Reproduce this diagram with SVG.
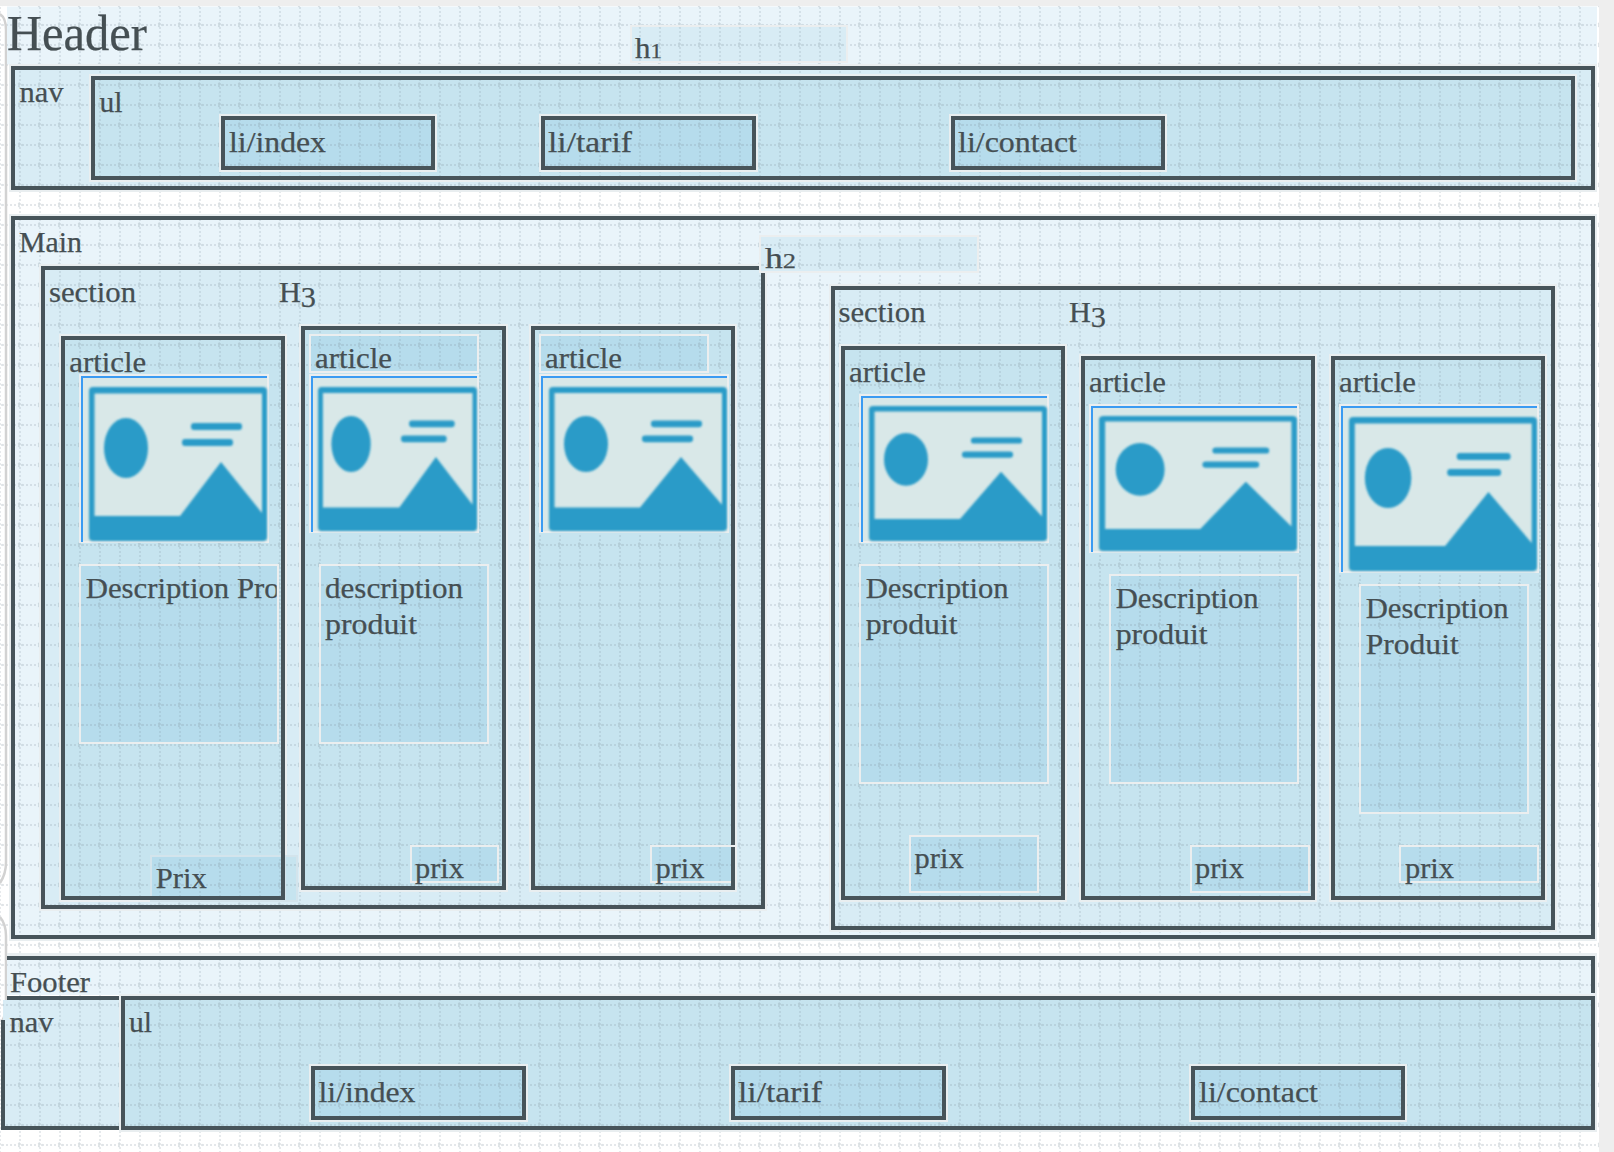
<svg xmlns="http://www.w3.org/2000/svg" width="1614" height="1152" viewBox="0 0 1614 1152">
<style>
.l0{fill:url(#g0)}.l1{fill:url(#g1)}.l2{fill:url(#g2)}.l3{fill:url(#g3)}.l4{fill:url(#g4)}
.halo{fill:none;stroke:#e9eef0;stroke-width:8}
.box{stroke:#47545a;stroke-width:4}
.edge{fill:none;stroke:#47545a;stroke-width:4}
.soft{stroke:#ebeeef;stroke-width:2}
.faint{stroke:#d3e4ec;stroke-width:2}
.pic{fill:#d9e8e8;stroke:#ebeeef;stroke-width:2}
.blue{fill:none;stroke:#3a9bf2;stroke-width:2}
.rim{fill:none;stroke:#d2d2d2;stroke-width:2.500}
text{font-family:"Liberation Serif",serif;font-size:29.500px;fill:#454f53;stroke:#454f53;stroke-width:.25px}
.big{font-size:50px}
.old{font-size:22px}
</style>
<defs>
<path id="tile" d="M10 0V20M0 10H20M10 8a2 2 0 1 0 .01 0" fill="none" stroke="#7d9098" stroke-opacity=".28" stroke-width="1.400" stroke-dasharray="2 2"/>
<pattern id="g0" patternUnits="userSpaceOnUse" x="10" y="-5" width="20" height="20"><rect width="20" height="20" fill="#fff"/><use href="#tile"/></pattern>
<pattern id="g1" patternUnits="userSpaceOnUse" x="10" y="-5" width="20" height="20"><rect width="20" height="20" fill="#e9f4fa"/><use href="#tile"/></pattern>
<pattern id="g2" patternUnits="userSpaceOnUse" x="10" y="-5" width="20" height="20"><rect width="20" height="20" fill="#d8ecf5"/><use href="#tile"/></pattern>
<pattern id="g3" patternUnits="userSpaceOnUse" x="10" y="-5" width="20" height="20"><rect width="20" height="20" fill="#c6e4ef"/><use href="#tile"/></pattern>
<pattern id="g4" patternUnits="userSpaceOnUse" x="10" y="-5" width="20" height="20"><rect width="20" height="20" fill="#b6dcec"/><use href="#tile"/></pattern>
<filter id="blur" x="-5%" y="-5%" width="110%" height="110%"><feGaussianBlur stdDeviation="0.9"/></filter>
<symbol id="icon" viewBox="0 0 178 155" preserveAspectRatio="none">
<g fill="#2a9bc8">
<path fill-rule="evenodd" d="M4 1H174a4 4 0 0 1 4 4V151a4 4 0 0 1-4 4H4a4 4 0 0 1-4-4V5a4 4 0 0 1 4-4ZM5.500 7.500V130H91L132 76L173 127V7.500Z"/>
<ellipse cx="37" cy="62" rx="22" ry="30"/>
<rect x="102" y="37" width="51" height="7" rx="3"/>
<rect x="93" y="53" width="51" height="7" rx="3"/>
</g>
</symbol>
<clipPath id="clipD1"><rect x="80" y="560" width="196.700" height="60"/></clipPath>
</defs>

<rect id="page" width="1614" height="1152" fill="#eeeeee"/>
<rect id="sheet" x="0" y="6" width="1599" height="1146" class="l0"/>
<path class="rim" d="M0 14Q6 18 6 30V862Q6 874 0 883M0 917Q6 924 6 936V1008Q6 1016 1 1022"/>

<g id="header">
<rect x="7" y="6.500" width="1590" height="58" class="l1"/>
<text class="big" x="7" y="50" textLength="140" lengthAdjust="spacingAndGlyphs">Header</text>
</g>
<g id="h1">
<rect x="631" y="26" width="216" height="36" class="l2 soft"/>
<text x="635" y="58" textLength="27" lengthAdjust="spacingAndGlyphs">h<tspan class="old">1</tspan></text>
</g>

<g id="nav">
<rect x="13" y="68" width="1580" height="120" class="halo"/>
<rect x="13" y="68" width="1580" height="120" class="l2 box"/>
<text x="19.500" y="101.700" textLength="44" lengthAdjust="spacingAndGlyphs">nav</text>
</g>
<g id="nav-ul">
<rect x="93" y="78" width="1480" height="100" class="halo"/>
<rect x="93" y="78" width="1480" height="100" class="l3 box"/>
<text x="99.500" y="111.700" textLength="23" lengthAdjust="spacingAndGlyphs">ul</text>
</g>
<g id="nav-li-index">
<rect x="223" y="118" width="210" height="50" class="halo"/>
<rect x="223" y="118" width="210" height="50" class="l4 box"/>
<text x="229" y="152" textLength="97" lengthAdjust="spacingAndGlyphs">li/index</text>
</g>
<g id="nav-li-tarif">
<rect x="543" y="118" width="211" height="50" class="halo"/>
<rect x="543" y="118" width="211" height="50" class="l4 box"/>
<text x="548" y="152" textLength="84" lengthAdjust="spacingAndGlyphs">li/tarif</text>
</g>
<g id="nav-li-contact">
<rect x="953" y="118" width="210" height="50" class="halo"/>
<rect x="953" y="118" width="210" height="50" class="l4 box"/>
<text x="958" y="152" textLength="119" lengthAdjust="spacingAndGlyphs">li/contact</text>
</g>

<g id="main">
<rect x="13" y="218" width="1580" height="719" class="halo"/>
<rect x="13" y="218" width="1580" height="719" class="l1 box"/>
<text x="19" y="251.700" textLength="63" lengthAdjust="spacingAndGlyphs">Main</text>
</g>

<g id="section-1">
<rect x="43" y="268" width="720" height="639" class="halo"/>
<rect x="43" y="268" width="720" height="639" class="l2 box"/>
<text x="49" y="301.700" textLength="87" lengthAdjust="spacingAndGlyphs">section</text>
<text x="279" y="302" textLength="37" lengthAdjust="spacingAndGlyphs">H<tspan dy="5">3</tspan></text>
</g>
<g id="h2">
<rect x="760" y="236" width="218" height="36" class="l2 soft"/>
<text x="765" y="268" textLength="31" lengthAdjust="spacingAndGlyphs">h<tspan class="old">2</tspan></text>
</g>

<g id="article-1">
<rect x="63" y="338" width="220" height="560" class="halo"/>
<rect x="63" y="338" width="220" height="560" class="l3 box"/>
<rect x="151" y="856" width="134" height="45" class="l4 faint"/>
<rect x="285" y="856" width="12" height="45" class="l3 faint"/>
<rect x="63" y="338" width="220" height="560" class="edge"/>
<text x="69.300" y="371.700" textLength="77" lengthAdjust="spacingAndGlyphs">article</text>
<text x="155.700" y="888" textLength="51" lengthAdjust="spacingAndGlyphs">Prix</text>
<rect x="80" y="375" width="188" height="167" class="pic"/><path class="blue" d="M82 542V377H267"/>
<use href="#icon" x="89" y="386" width="178" height="155" filter="url(#blur)"/>
<rect x="80" y="565" width="198" height="178" class="l4 soft"/>
<text x="85.700" y="598" textLength="194" lengthAdjust="spacingAndGlyphs" clip-path="url(#clipD1)">Description Pro</text>
</g>

<g id="article-2">
<rect x="303" y="328" width="201" height="560" class="halo"/>
<rect x="303" y="328" width="201" height="560" class="l3 box"/>
<rect x="310" y="335" width="168" height="37" class="l4 soft"/>
<text x="315" y="368" textLength="77" lengthAdjust="spacingAndGlyphs">article</text>
<rect x="310" y="375" width="168" height="157" class="pic"/><path class="blue" d="M312 532V377H477"/>
<use href="#icon" x="318" y="386" width="159" height="145" filter="url(#blur)"/>
<rect x="320" y="565" width="168" height="178" class="l4 soft"/>
<text x="325" y="598" textLength="138" lengthAdjust="spacingAndGlyphs">description</text>
<text x="325" y="634" textLength="92" lengthAdjust="spacingAndGlyphs">produit</text>
<rect x="411" y="846" width="87" height="36" class="l4 soft"/>
<text x="415" y="878.300" textLength="49" lengthAdjust="spacingAndGlyphs">prix</text>
</g>

<g id="article-3">
<rect x="533" y="328" width="200" height="560" class="halo"/>
<rect x="533" y="328" width="200" height="560" class="l3 box"/>
<rect x="540" y="335" width="168" height="37" class="l4 soft"/>
<text x="545" y="368" textLength="77" lengthAdjust="spacingAndGlyphs">article</text>
<rect x="540" y="375" width="188" height="157" class="pic"/><path class="blue" d="M542 532V377H727"/>
<use href="#icon" x="549" y="386" width="178" height="145" filter="url(#blur)"/>
<rect x="651" y="846" width="85" height="36" class="l4 soft"/>
<rect x="533" y="328" width="200" height="560" class="edge"/>
<path class="soft" fill="none" d="M730 846H737"/>
<text x="655.500" y="878.300" textLength="49" lengthAdjust="spacingAndGlyphs">prix</text>
</g>

<g id="section-2">
<rect x="833" y="288" width="720" height="640" class="halo"/>
<rect x="833" y="288" width="720" height="640" class="l2 box"/>
<text x="838.500" y="321.700" textLength="87" lengthAdjust="spacingAndGlyphs">section</text>
<text x="1069" y="321.700" textLength="37" lengthAdjust="spacingAndGlyphs">H<tspan dy="5">3</tspan></text>
</g>

<g id="article-4">
<rect x="843" y="348" width="220" height="550" class="halo"/>
<rect x="843" y="348" width="220" height="550" class="l3 box"/>
<text x="849" y="381.700" textLength="77" lengthAdjust="spacingAndGlyphs">article</text>
<rect x="860" y="395" width="188" height="147" class="pic"/><path class="blue" d="M862 542V397H1047"/>
<use href="#icon" x="869" y="405" width="178" height="136" filter="url(#blur)"/>
<rect x="860" y="565" width="188" height="218" class="l4 soft"/>
<text x="865.700" y="598" textLength="143" lengthAdjust="spacingAndGlyphs">Description</text>
<text x="865.700" y="634" textLength="92" lengthAdjust="spacingAndGlyphs">produit</text>
<rect x="910" y="836" width="128" height="56" class="l4 soft"/>
<text x="914.600" y="868.300" textLength="49" lengthAdjust="spacingAndGlyphs">prix</text>
</g>

<g id="article-5">
<rect x="1083" y="358" width="230" height="540" class="halo"/>
<rect x="1083" y="358" width="230" height="540" class="l3 box"/>
<text x="1089" y="391.700" textLength="77" lengthAdjust="spacingAndGlyphs">article</text>
<rect x="1090" y="405" width="208" height="147" class="pic"/><path class="blue" d="M1092 552V407H1297"/>
<use href="#icon" x="1099" y="415" width="198" height="136" filter="url(#blur)"/>
<rect x="1110" y="575" width="188" height="208" class="l4 soft"/>
<text x="1115.700" y="608" textLength="143" lengthAdjust="spacingAndGlyphs">Description</text>
<text x="1115.700" y="644" textLength="92" lengthAdjust="spacingAndGlyphs">produit</text>
<rect x="1191" y="846" width="118" height="46" class="l4 soft"/>
<text x="1195" y="878.300" textLength="49" lengthAdjust="spacingAndGlyphs">prix</text>
</g>

<g id="article-6">
<rect x="1333" y="358" width="210" height="540" class="halo"/>
<rect x="1333" y="358" width="210" height="540" class="l3 box"/>
<text x="1339" y="391.700" textLength="77" lengthAdjust="spacingAndGlyphs">article</text>
<rect x="1340" y="405" width="198" height="167" class="pic"/><path class="blue" d="M1342 572V407H1537"/>
<use href="#icon" x="1349" y="416" width="188" height="155" filter="url(#blur)"/>
<rect x="1360" y="585" width="168" height="228" class="l4 soft"/>
<text x="1365.700" y="618" textLength="143" lengthAdjust="spacingAndGlyphs">Description</text>
<text x="1365.700" y="654" textLength="93" lengthAdjust="spacingAndGlyphs">Produit</text>
<rect x="1400" y="846" width="138" height="36" class="l4 soft"/>
<text x="1405" y="878.300" textLength="49" lengthAdjust="spacingAndGlyphs">prix</text>
</g>

<g id="footer">
<rect x="7" y="953" width="1590" height="42" fill="#e9eef0"/>
<rect x="7" y="958" width="1586" height="37" class="l1"/>
<path class="edge" d="M7 958H1593V993"/>
<text x="10" y="991.700" textLength="80" lengthAdjust="spacingAndGlyphs">Footer</text>
</g>
<g id="footer-nav">
<rect x="3" y="1000" width="116" height="126" class="l2"/>
<path class="edge" d="M7 998H119M3 1020V1128H119"/>
<text x="9.500" y="1031.700" textLength="44" lengthAdjust="spacingAndGlyphs">nav</text>
</g>
<g id="footer-ul">
<rect x="123" y="998" width="1470" height="130" class="halo"/>
<rect x="123" y="998" width="1470" height="130" class="l3 box"/>
<text x="129" y="1031.700" textLength="23" lengthAdjust="spacingAndGlyphs">ul</text>
</g>
<g id="footer-li-index">
<rect x="313" y="1068" width="211" height="50" class="halo"/>
<rect x="313" y="1068" width="211" height="50" class="l4 box"/>
<text x="318.500" y="1101.700" textLength="97" lengthAdjust="spacingAndGlyphs">li/index</text>
</g>
<g id="footer-li-tarif">
<rect x="733" y="1068" width="211" height="50" class="halo"/>
<rect x="733" y="1068" width="211" height="50" class="l4 box"/>
<text x="738" y="1101.700" textLength="84" lengthAdjust="spacingAndGlyphs">li/tarif</text>
</g>
<g id="footer-li-contact">
<rect x="1193" y="1068" width="210" height="50" class="halo"/>
<rect x="1193" y="1068" width="210" height="50" class="l4 box"/>
<text x="1199" y="1101.700" textLength="119" lengthAdjust="spacingAndGlyphs">li/contact</text>
</g>
<g id="connectors"/>
</svg>
